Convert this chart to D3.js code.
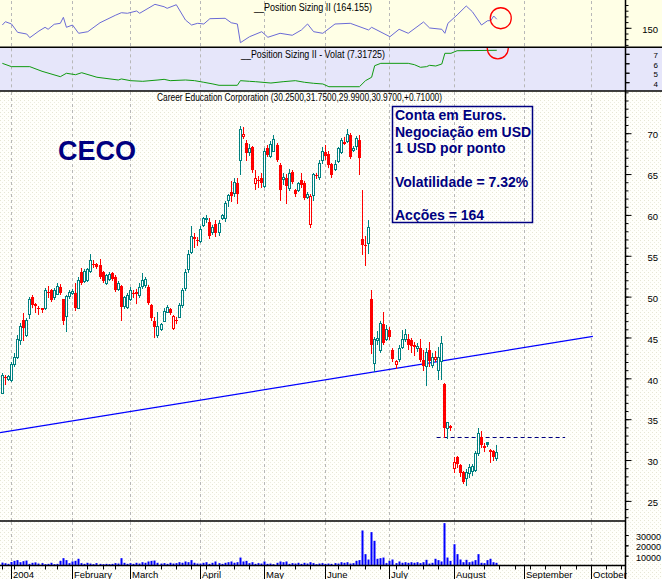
<!DOCTYPE html>
<html><head><meta charset="utf-8">
<script src="https://cdn.jsdelivr.net/npm/d3@7"></script>
<style>
body{margin:0;background:#fff;overflow:hidden}
svg{display:block}
text{font-family:"Liberation Sans",Arial,sans-serif}
</style>
</head><body>
<svg id="c" width="662" height="579"></svg>
<script>
// ---------- DATA (index 0 = 29 Dec 2003, one entry per trading day) ----------
const opens = [38.2,40.1,39.9,39.7,41.7,42.5,44.6,47.1,45.2,47.8,49.85,49.0,48.5,48.5,48.5,50.5,50.7,49.9,50.3,51.1,49.6,47.6,50.0,50.4,50.4,48.6,53.0,51.8,52.0,53.1,53.9,53.9,53.8,53.0,51.6,52.1,52.8,52.3,50.9,51.2,48.8,48.7,49.6,50.4,50.5,50.1,51.2,51.3,51.1,48.9,47.0,45.3,46.0,47.0,48.1,48.4,46.1,47.1,47.5,48.9,51.0,53.3,55.4,57.2,56.9,56.7,58.7,59.4,59.1,57.9,58.8,57.8,59.6,59.5,61.8,62.7,62.6,63.9,66.6,69.6,68.8,67.6,68.3,63.9,64.2,64.5,63.5,68.1,67.2,67.8,68.5,66.0,64.3,64.4,63.2,65.2,63.0,63.0,64.2,63.9,62.1,58.8,62.4,64.8,64.6,66.6,67.6,67.4,66.2,65.5,66.5,67.6,68.8,69.0,69.7,67.9,68.4,69.1,57.0,56.3,56.5,49.6,41.85,44.6,43.4,46.6,44.8,45.9,43.4,41.7,42.3,43.8,44.7,44.8,44.6,44.0,43.7,43.6,42.2,41.4,43.4,41.6,42.3,40.95,42.1,39.3,33.8,34.1,29.0,30.35,29.3,28.5,27.7,28.3,28.6,28.7,30.8,32.8,31.6,32.1,31.2,31.1,30.25];
const highs = [40.6,40.3,40.4,41.9,43.0,45.2,46.7,47.9,47.3,49.9,50.1,49.1,48.8,48.6,51.0,51.2,50.9,51.0,51.6,51.5,49.7,50.1,50.8,50.9,51.6,52.3,53.4,53.3,53.5,55.1,54.4,54.0,54.5,53.1,52.7,52.9,53.0,52.6,51.8,51.3,50.0,50.4,51.1,50.7,50.9,51.6,52.8,52.3,51.3,49.0,47.5,48.0,46.7,48.6,48.9,48.6,47.7,47.5,49.2,51.0,53.3,55.6,58.6,57.7,57.2,58.6,59.7,59.9,59.6,58.7,59.3,59.3,60.0,61.6,62.5,64.1,64.4,64.4,70.8,70.7,69.1,68.6,68.4,65.4,64.7,65.1,68.1,68.5,69.0,69.7,68.8,66.3,65.1,65.0,65.5,65.4,63.1,64.0,65.1,64.1,62.8,62.5,65.1,65.1,66.7,68.3,68.5,67.8,66.3,66.6,68.3,69.4,69.5,70.5,70.0,68.4,69.6,69.7,63.0,57.3,59.3,50.75,45.0,45.7,47.0,48.1,46.5,46.2,43.6,42.2,44.0,45.9,46.0,45.4,44.9,44.4,44.3,44.7,43.4,43.6,44.4,43.0,43.3,43.8,45.1,39.4,34.6,34.2,30.3,30.4,29.4,28.6,28.9,29.4,29.4,31.1,33.8,33.5,32.0,32.2,31.3,31.2,31.75];
const lows = [38.1,39.3,39.7,39.6,41.4,42.4,44.2,44.6,45.1,47.3,48.7,48.1,47.8,48.1,48.4,49.9,49.4,49.7,50.2,50.2,46.6,45.7,49.8,50.2,48.3,48.5,51.5,51.7,51.9,53.0,53.6,53.4,52.2,51.7,51.5,52.0,52.0,50.6,50.8,47.1,48.5,48.5,49.5,49.85,49.1,49.9,51.0,51.1,49.0,47.1,45.0,45.0,45.9,46.9,48.0,47.8,46.0,46.7,47.4,48.7,50.8,53.0,55.3,56.0,56.3,56.6,58.6,59.1,57.1,57.6,57.3,57.5,59.4,59.2,61.0,61.6,62.2,61.4,64.9,69.3,66.7,67.3,65.2,63.1,63.3,63.3,63.4,67.1,67.0,67.7,66.5,61.8,63.7,61.4,63.0,63.8,62.2,62.9,63.3,61.9,62.0,58.5,61.8,64.4,64.3,66.3,66.8,65.8,64.6,65.4,66.4,67.5,68.6,68.9,66.9,67.7,68.0,65.0,55.2,53.8,55.3,43.1,40.8,44.1,43.2,44.2,44.6,44.8,42.0,41.2,42.0,43.6,44.5,43.5,43.2,42.8,43.3,42.1,41.0,39.1,41.45,41.3,42.0,39.8,39.8,32.7,32.6,33.6,28.5,29.1,28.0,27.1,26.9,27.9,28.1,28.6,30.6,31.5,31.1,31.7,29.7,29.9,29.99];
const closes = [40.35,40.0,40.2,41.7,42.6,44.8,46.3,46.1,47.1,49.6,48.9,48.8,48.4,48.3,50.8,50.4,49.5,50.7,51.2,50.4,47.0,50.0,50.5,50.6,48.5,52.0,51.6,53.1,53.3,54.4,53.8,53.6,52.3,51.8,52.6,52.7,52.1,50.8,51.6,48.7,49.9,50.1,50.8,50.3,50.2,51.1,52.0,52.1,49.1,47.3,46.2,46.3,46.6,48.2,48.7,47.9,47.6,47.0,48.9,50.7,53.0,55.2,57.4,57.0,56.7,58.2,59.5,59.6,57.4,58.5,57.7,59.0,59.9,61.4,62.4,62.3,64.0,62.5,70.5,69.9,67.5,68.1,65.4,64.4,64.1,63.9,67.7,67.3,68.6,69.2,66.7,63.0,64.6,63.5,65.1,64.0,62.5,63.9,63.6,62.0,62.5,62.2,64.9,64.7,66.3,67.8,67.1,66.1,64.8,66.2,68.1,69.1,68.9,69.8,67.0,68.1,69.3,66.9,56.3,56.1,58.4,44.0,44.7,44.9,46.75,44.3,46.0,45.0,42.3,42.0,43.7,44.8,45.4,44.0,43.9,43.8,43.9,42.2,41.45,43.2,42.0,42.6,42.5,42.6,44.3,33.8,34.55,33.8,29.7,29.45,28.3,27.3,28.5,29.1,29.2,30.8,33.2,31.8,31.45,31.8,30.9,30.26,30.97];
const volumes = [2800,2200,1600,3400,4500,5200,3200,4200,4800,1600,2600,3000,1900,2300,1300,1600,2600,1300,1600,4500,7100,5200,2300,
 3900,4500,6500,2300,1600,2600,1900,1300,2300,1600,1300,1600,1300,1600,2300,1900,7100,2600,1600,
 2300,1600,2600,1900,3200,2600,3900,4500,4800,2600,1900,2300,1600,2600,1900,2300,3200,2600,3900,3200,5200,2600,1900,
 1900,2600,3200,1600,2600,3900,2300,1600,2600,3200,3900,2600,3200,7700,3900,4500,2300,3200,1600,2300,1900,
 3900,1600,1900,1300,2600,3900,3200,3900,1600,2300,1900,2600,1600,2600,1900,3200,2300,1300,1900,2300,
 1600,1900,1600,2300,1900,3200,2600,3200,1900,2300,4500,5200,
 33900,11000,5800,32300,23900,6500,7100,7700,2300,4500,5800,2300,3900,2600,3200,2600,3200,2600,3200,2300,3200,5500,1900,2600,6500,5200,3900,41000,7700,4500,
 20600,11000,5800,3200,5500,3200,3900,5200,11000,2600,2300,5200,6500,3200,2600];
// Position Sizing II readings (day index, value)
const sizingIdx = [0,1,3,5,8,9,12,14,15,17,19,20,21,23,25,28,32,37,39,41,44,45,50,53,54,57,60,62,64,66,68,73,75,77,78,81,85,87,91,95,98,100,102,105,109,114,120,121,127,130,133,138,140,144,145,146,149,152,154,157,159,160,161,162];
const sizingVal = [154,159.8,155.8,141.2,138.2,131.8,143.5,150,146.5,155.3,157,167.5,150,154,139.5,142.3,158,171,175.6,174.6,178.6,174.6,190.3,186.1,183.3,189.6,162.8,154,157,155.8,165.1,165.8,158,155.8,123,133.5,142.3,132.5,139.5,136,145.3,155.8,142.3,139.5,155.8,157,145.3,150,133.5,146.5,139.5,159.3,148.8,146.5,139.5,157,171.6,187.4,177.4,154,161.6,161.6,169.8,164.155];
// Position Sizing II - Volat readings (day index, value)
const volatIdx = [0,3,9,13,19,21,24,26,31,38,39,42,46,51,53,55,60,63,66,69,71,77,78,81,83,88,92,96,99,102,105,107,117,119,121,122,124,133,135,137,139,140,142,144,145,147,149,162];
const volatVal = [5.94,5.59,5.59,5.10,4.53,4.89,4.74,4.95,4.47,4.18,4.29,4.11,4.04,4.18,4.25,4.11,4.18,4.11,3.94,3.76,3.62,3.62,4.11,4.04,4.0,3.86,4.0,4.11,3.94,3.83,3.76,3.47,3.47,4.11,4.47,5.69,5.94,5.94,5.80,5.52,5.59,5.73,5.66,5.87,7.0,7.0,7.27,7.317];
// x-axis month ticks
const monthLabels = ["2004","February","March","April","May","June","July","August","September","October"];
const monthIdx = [3,23,42,65,86,106,127,148,171,193];
const holidays = ["2004-01-01","2004-01-19","2004-02-16","2004-04-09","2004-05-31","2004-06-11","2004-07-05"];
// drawn lines
const trendIdx = [-0.77,193.5], trendVal = [33.3,45.07];
const supportIdx = [142.3,184.4], supportVal = 32.7;
const priceTicks = [25,30,35,40,45,50,55,60,65,70];
const volTicks = [10000,20000,30000];
const volatTicks = [4,5,6,7];
const sizingTicks = [150];
const infoLines = ["Conta em Euros.","Negociação em USD","1 USD por ponto","","Volatilidade = 7.32%","","Acções = 164"];
const titleMain = "Career Education Corporation (30.2500,31.7500,29.9900,30.9700,+0.71000)";
const titleSizing = "__Position Sizing II (164.155)";
const titleVolat = "__Position Sizing II - Volat (7.31725)";

// ---------- LAYOUT ----------
const W=662,H=579, AX=625.5;
const P1=[0,47.3], P2=[47.3,91], PM=[91,521], PV=[521,565.5];
const TEAL="#008080", RED="#ff0000", NAVY="#000080";

const x = d3.scaleLinear().domain([0,200]).range([2.34,2.34+200*3.052]);
const yM = d3.scaleLinear().domain([25,70]).range([500.4,132.7]);
const yV = d3.scaleLinear().domain([0,30000]).range([565.5,534.5]);
const yS = d3.scaleLinear().domain([150,190]).range([27.3,4.5]);
const yL = d3.scaleLinear().domain([4,7]).range([81.7,53.3]);
const px = i => Math.floor(x(i))+0.5;

const svg = d3.select("#c");
const defs = svg.append("defs");
const pat = defs.append("pattern").attr("id","dots").attr("width",4).attr("height",4).attr("patternUnits","userSpaceOnUse");
pat.append("rect").attr("width",4).attr("height",4).attr("fill","#fffffb");
pat.append("rect").attr("x",0).attr("y",0).attr("width",1).attr("height",1).attr("fill","#e6e6d4");
pat.append("rect").attr("x",2).attr("y",2).attr("width",1).attr("height",1).attr("fill","#ecece0");
function clip(id,y0,y1){defs.append("clipPath").attr("id",id).append("rect").attr("x",0).attr("y",y0).attr("width",AX).attr("height",y1-y0);}
clip("c1",P1[0],P1[1]); clip("c2",P2[0],P2[1]); clip("cm",PM[0],PM[1]); clip("cv",PV[0],PV[1]);

svg.append("rect").attr("width",W).attr("height",H).attr("fill","url(#dots)");
svg.append("rect").attr("x",0).attr("y",P1[0]).attr("width",W).attr("height",P1[1]-P1[0]).attr("fill","#ffffe6");
svg.append("rect").attr("x",0).attr("y",P2[0]).attr("width",W).attr("height",P2[1]-P2[0]).attr("fill","#e6e6fa");

// month grid lines
[P1,P2,PM,PV].forEach(p=>{
  svg.append("g").selectAll("line").data(monthIdx).join("line")
    .attr("x1",d=>px(d)).attr("x2",d=>px(d)).attr("y1",p[0]+1).attr("y2",p[1])
    .attr("stroke","#b8b8b8").attr("stroke-width",1).attr("stroke-dasharray","3,3");
});

// ---------- top panel: Position Sizing II ----------
const sizing = sizingIdx.map((d,k)=>({i:d,v:sizingVal[k]}));
svg.append("path").datum(sizing).attr("clip-path","url(#c1)")
  .attr("d",d3.line().x(d=>x(d.i)).y(d=>yS(d.v)))
  .attr("fill","none").attr("stroke","#6a6ad6").attr("stroke-width",1);
const last = opens.length-1;
svg.append("circle").attr("cx",x(last)+4).attr("cy",yS(sizingVal[sizingVal.length-1])-1).attr("r",10.5)
  .attr("fill","none").attr("stroke",RED).attr("stroke-width",1.3).attr("clip-path","url(#c1)");
svg.append("text").attr("x",313).attr("y",11).attr("text-anchor","middle").attr("font-size",10)
  .attr("textLength",118).attr("lengthAdjust","spacingAndGlyphs").text(titleSizing);

// ---------- second panel: Volat ----------
const volat = volatIdx.map((d,k)=>({i:d,v:volatVal[k]}));
svg.append("path").datum(volat).attr("clip-path","url(#c2)")
  .attr("d",d3.line().x(d=>x(d.i)).y(d=>yL(d.v)))
  .attr("fill","none").attr("stroke","#109a10").attr("stroke-width",1);
svg.append("circle").attr("cx",x(last)+1).attr("cy",yL(volatVal[volatVal.length-1])-2).attr("r",10.5)
  .attr("fill","none").attr("stroke",RED).attr("stroke-width",1.3).attr("clip-path","url(#c2)");
svg.append("text").attr("x",313).attr("y",57.5).attr("text-anchor","middle").attr("font-size",10)
  .attr("textLength",144).attr("lengthAdjust","spacingAndGlyphs").text(titleVolat);

// ---------- main panel ----------
const gm = svg.append("g").attr("clip-path","url(#cm)");
gm.append("path").datum(trendIdx.map((d,k)=>({i:d,v:trendVal[k]})))
  .attr("d",d3.line().x(d=>x(d.i)).y(d=>yM(d.v)))
  .attr("stroke","#0000ff").attr("stroke-width",1.2).attr("fill","none");
gm.append("line").attr("x1",x(supportIdx[0])).attr("x2",x(supportIdx[1]))
  .attr("y1",Math.round(yM(supportVal))+0.5).attr("y2",Math.round(yM(supportVal))+0.5)
  .attr("stroke",NAVY).attr("stroke-width",1).attr("stroke-dasharray","4,3");

const candles = opens.map((o,k)=>({i:k,o,h:highs[k],l:lows[k],c:closes[k],pc:k?closes[k-1]:o}));
const cg = gm.append("g").selectAll("g").data(candles).join("g");
cg.append("line")
  .attr("x1",d=>px(d.i)).attr("x2",d=>px(d.i))
  .attr("y1",d=>Math.round(yM(d.h))).attr("y2",d=>Math.round(yM(d.l))+1)
  .attr("stroke",d=>d.c>=d.pc?TEAL:RED).attr("stroke-width",1);
cg.append("rect")
  .each(function(d){
    const col = d.c>=d.pc?TEAL:RED;
    const top = Math.round(yM(Math.max(d.o,d.c))), bot = Math.round(yM(Math.min(d.o,d.c)));
    const s = d3.select(this);
    if(d.c>=d.o){
      s.attr("x",px(d.i)-1).attr("y",top+0.5).attr("width",2).attr("height",Math.max(bot-top,1))
       .attr("fill","#ffffff").attr("stroke",col).attr("stroke-width",1);
    } else {
      s.attr("x",px(d.i)-1.5).attr("y",top).attr("width",3).attr("height",Math.max(bot-top,1))
       .attr("fill",col);
    }
  });

svg.append("text").attr("x",157).attr("y",101).attr("font-size",10)
  .attr("textLength",285).attr("lengthAdjust","spacingAndGlyphs").text(titleMain);
svg.append("text").attr("x",58).attr("y",160).attr("font-size",27).attr("font-weight","bold")
  .attr("fill",NAVY).text("CECO");
svg.append("rect").attr("x",392.5).attr("y",106.5).attr("width",140).attr("height",116)
  .attr("fill","none").attr("stroke",NAVY).attr("stroke-width",1.5);
svg.append("g").selectAll("text").data(infoLines).join("text")
  .attr("x",395).attr("y",(d,k)=>120+k*16.67).attr("font-size",14).attr("font-weight","bold")
  .attr("fill",NAVY).text(d=>d);

// ---------- volume panel ----------
svg.append("g").attr("clip-path","url(#cv)").selectAll("rect").data(volumes).join("rect")
  .attr("x",(d,k)=>Math.floor(x(k))-0.5).attr("width",2)
  .attr("y",d=>yV(d)).attr("height",d=>yV(0)-yV(d)).attr("fill","#0000ff");

// ---------- frame lines ----------
function hline(y,x0,x1,w){svg.append("line").attr("x1",x0).attr("x2",x1).attr("y1",y).attr("y2",y).attr("stroke","#000").attr("stroke-width",w);}
hline(P1[1],0,W,1.5); hline(P2[1],0,W,1.5); hline(PM[1],0,AX,1.5); hline(PV[1],0,AX,1.5);
svg.append("line").attr("x1",AX).attr("x2",AX).attr("y1",0).attr("y2",H).attr("stroke","#000").attr("stroke-width",1.5);

// ---------- right axes ----------
function rAxis(scale, minors, majors, minLen, majLen, fmt, right, fs){
  const g1 = svg.append("g").attr("transform",`translate(${AX},0)`)
    .call(d3.axisRight(scale).tickValues(minors).tickSize(minLen).tickFormat(""));
  g1.select(".domain").remove();
  const g2 = svg.append("g").attr("transform",`translate(${AX},0)`)
    .call(d3.axisRight(scale).tickValues(majors).tickSize(majLen).tickFormat(fmt));
  g2.select(".domain").remove();
  [g1,g2].forEach(g=>g.selectAll("line").attr("stroke","#000").attr("stroke-width",1)
     .attr("transform","translate(0,0.5)"));
  g2.selectAll("text").attr("x",right-AX).attr("text-anchor","end").attr("dy","0.55em")
    .attr("font-size",fs).attr("font-family","Liberation Sans, Arial, sans-serif").attr("fill","#000");
}
rAxis(yM, d3.range(23,76), priceTicks, 3, 6, d3.format("d"), 658, 9.5);
rAxis(yS, d3.range(120,200,10), sizingTicks, 3, 6, d3.format("d"), 658, 9.5);
rAxis(yL, volatTicks, volatTicks, 4, 4, d3.format("d"), 658, 8);
rAxis(yV, volTicks, volTicks, 3, 3, d3.format("d"), 661, 9);

// ---------- x axis ----------
const days=[]; {let d=new Date(Date.UTC(2003,11,29)); while(days.length<205){const wd=d.getUTCDay(); const s=d.toISOString().slice(0,10); if(wd>0&&wd<6&&!holidays.includes(s)) days.push(new Date(d)); d=new Date(d.getTime()+864e5);} }
const weekIdx = days.map((d,k)=>k).filter(k=>k===0 || days[k].getUTCDay() <= days[k-1].getUTCDay());
const gx1 = svg.append("g").attr("transform",`translate(0,${PV[1]})`)
  .call(d3.axisBottom(x).tickValues(weekIdx.filter(k=>x(k)<AX)).tickSize(4).tickFormat(""));
gx1.select(".domain").remove();
const gx2 = svg.append("g").attr("transform",`translate(0,${PV[1]})`)
  .call(d3.axisBottom(x).tickValues(monthIdx).tickSize(14).tickFormat((d,k)=>monthLabels[k]));
gx2.select(".domain").remove();
[gx1,gx2].forEach(g=>g.selectAll(".tick").attr("transform",d=>`translate(${px(d)},0)`));
gx2.selectAll("text").attr("x",1.5).attr("y",12).attr("dy",0).attr("text-anchor","start")
  .attr("font-size",9.5).attr("font-family","Liberation Sans, Arial, sans-serif").attr("fill","#000");
svg.selectAll(".tick line").attr("stroke","#000");
</script>
</body></html>
